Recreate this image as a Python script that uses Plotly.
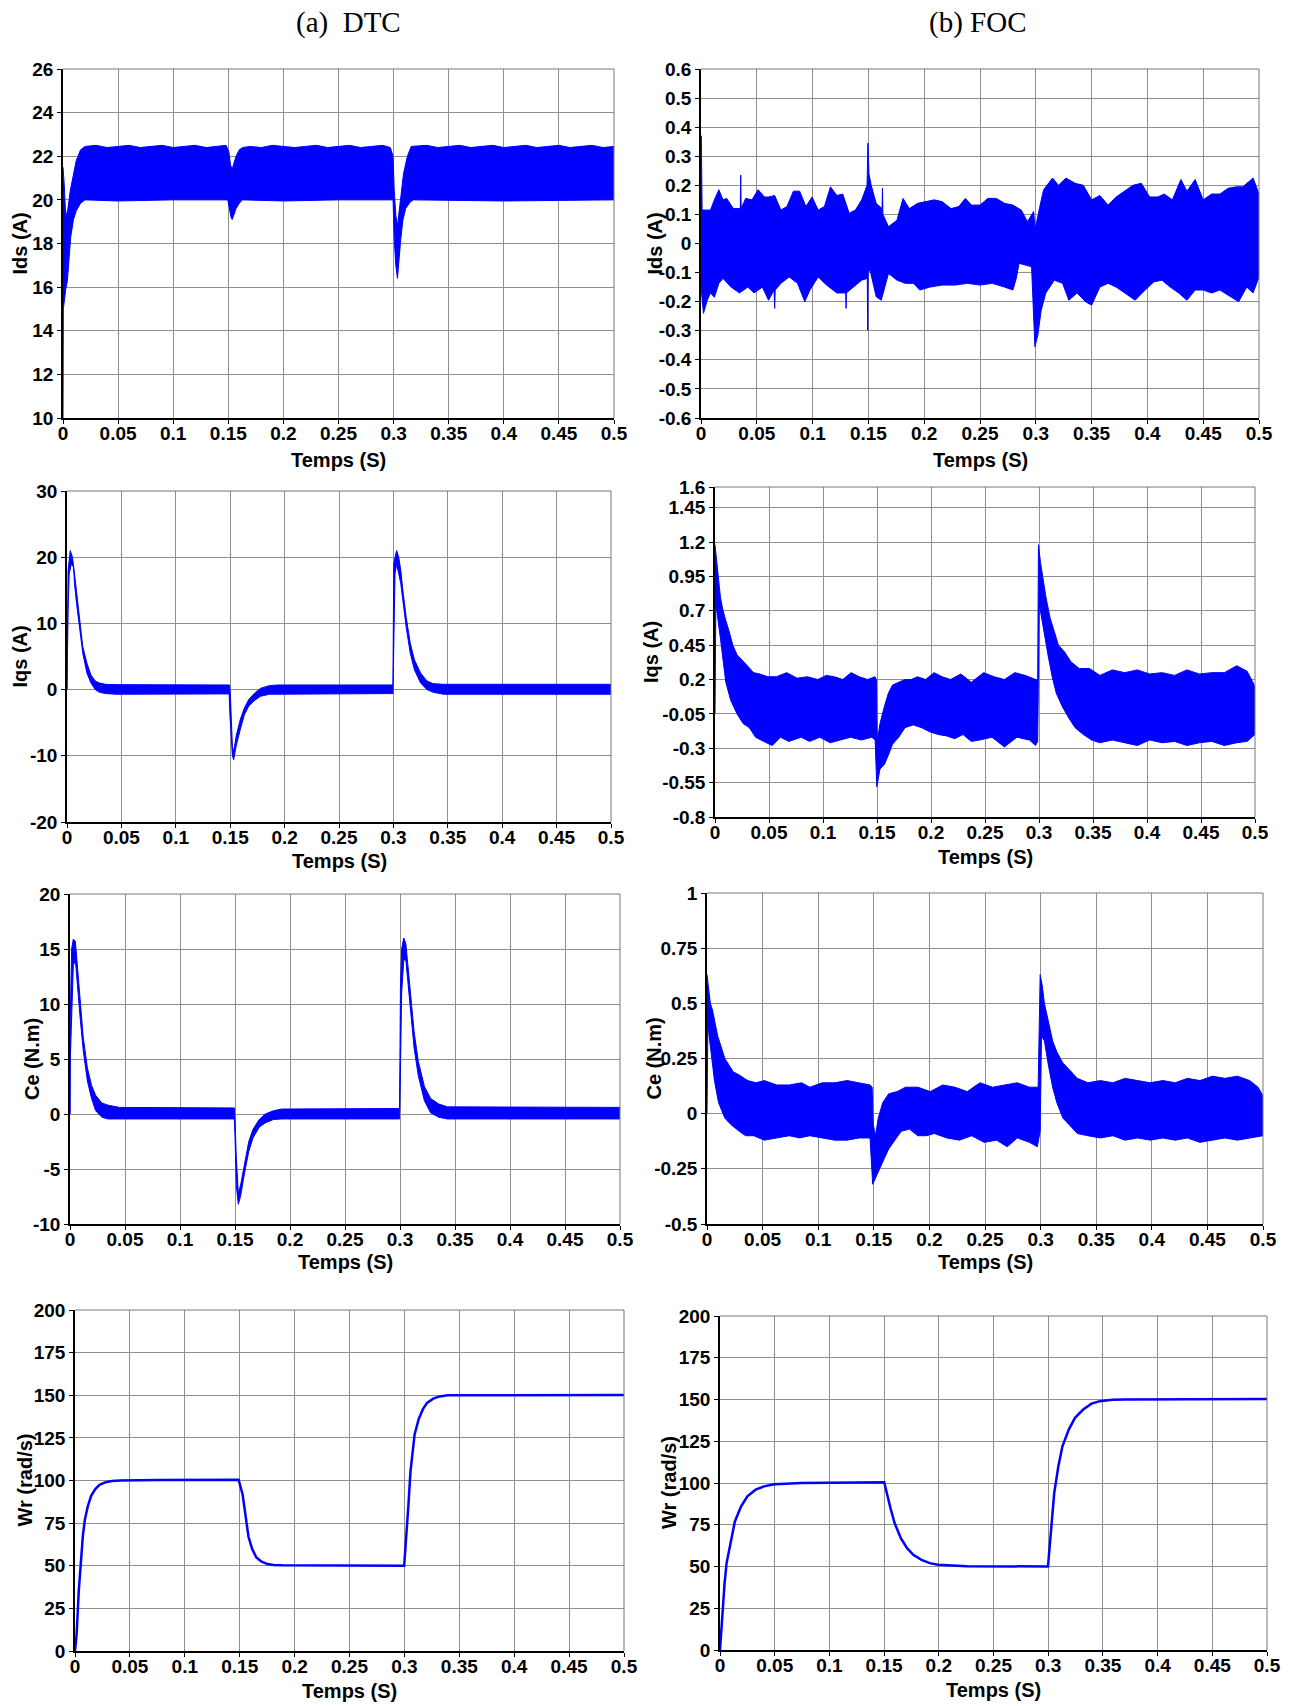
import plotly.graph_objects as go

W, H = 1294, 1706
BLUE = "#0000FF"
TICK_FONT = dict(family="Liberation Sans, Arial, sans-serif", size=19, color="black", weight="bold")
TITLE_FONT = dict(family="Liberation Sans, Arial, sans-serif", size=20, color="black", weight="bold")

# ---- time axis ----
T_TICKS = [0, 0.05, 0.1, 0.15, 0.2, 0.25, 0.3, 0.35, 0.4, 0.45, 0.5]
T_LABELS = ["0", "0.05", "0.1", "0.15", "0.2", "0.25", "0.3", "0.35", "0.4", "0.45", "0.5"]

# ---- value-axis ticks ----
IDS_DTC_TICKS = [10, 12, 14, 16, 18, 20, 22, 24, 26]
IDS_FOC_TICKS = [-0.6, -0.5, -0.4, -0.3, -0.2, -0.1, 0, 0.1, 0.2, 0.3, 0.4, 0.5, 0.6]
IDS_FOC_LABELS = ["-0.6", "-0.5", "-0.4", "-0.3", "-0.2", "-0.1", "0", "0.1", "0.2", "0.3", "0.4", "0.5", "0.6"]
IQS_DTC_TICKS = [-20, -10, 0, 10, 20, 30]
IQS_FOC_TICKS = [-0.8, -0.55, -0.3, -0.05, 0.2, 0.45, 0.7, 0.95, 1.2, 1.45, 1.6]
IQS_FOC_LABELS = ["-0.8", "-0.55", "-0.3", "-0.05", "0.2", "0.45", "0.7", "0.95", "1.2", "1.45", "1.6"]
CE_DTC_TICKS = [-10, -5, 0, 5, 10, 15, 20]
CE_FOC_TICKS = [-0.5, -0.25, 0, 0.25, 0.5, 0.75, 1]
CE_FOC_LABELS = ["-0.5", "-0.25", "0", "0.25", "0.5", "0.75", "1"]
WR_TICKS = [0, 25, 50, 75, 100, 125, 150, 175, 200]

# ---- DTC: Ids envelope (t [s], A) ----
IDS_DTC_UPPER = [(0, 21.5), (0.001, 20.8), (0.0025, 19.2), (0.0045, 19.6), (0.0065, 20.4), (0.009, 21.0),
                 (0.012, 21.8), (0.016, 22.3), (0.02, 22.45), (0.03, 22.5), (0.04, 22.4), (0.05, 22.45),
                 (0.06, 22.5), (0.07, 22.4), (0.08, 22.45), (0.09, 22.5), (0.1, 22.4), (0.11, 22.45),
                 (0.12, 22.5), (0.13, 22.4), (0.14, 22.45), (0.148, 22.5), (0.1505, 22.2), (0.152, 21.6),
                 (0.1535, 21.4), (0.155, 21.7), (0.157, 22.0), (0.16, 22.3), (0.163, 22.4), (0.17, 22.45),
                 (0.18, 22.4), (0.19, 22.5), (0.2, 22.45), (0.21, 22.4), (0.22, 22.45), (0.23, 22.5),
                 (0.24, 22.4), (0.25, 22.45), (0.26, 22.5), (0.27, 22.4), (0.28, 22.45), (0.29, 22.5),
                 (0.297, 22.4), (0.2995, 22.0), (0.3005, 20.5), (0.302, 19.3), (0.3035, 18.8), (0.305, 19.4),
                 (0.307, 20.4), (0.309, 21.2), (0.3125, 22.0), (0.316, 22.45), (0.33, 22.5), (0.34, 22.4),
                 (0.35, 22.45), (0.36, 22.5), (0.37, 22.4), (0.38, 22.45), (0.39, 22.5), (0.4, 22.4),
                 (0.41, 22.45), (0.42, 22.5), (0.43, 22.4), (0.44, 22.45), (0.45, 22.5), (0.46, 22.4),
                 (0.47, 22.45), (0.48, 22.5), (0.49, 22.4), (0.5, 22.45)]
IDS_DTC_LOWER = [(0, 10), (0.0003, 15.0), (0.0025, 15.9), (0.004, 16.3), (0.0055, 17.2), (0.007, 18.3),
                 (0.0095, 19.1), (0.012, 19.5), (0.016, 19.85), (0.02, 20.0), (0.05, 19.95), (0.1, 20.0),
                 (0.1495, 20.0), (0.151, 19.6), (0.1525, 19.2), (0.1535, 19.1), (0.155, 19.3), (0.157, 19.6),
                 (0.16, 19.85), (0.163, 20.0), (0.2, 19.95), (0.25, 20.0), (0.2995, 20.0), (0.3005, 18.3),
                 (0.302, 17.0), (0.3035, 16.4), (0.305, 17.1), (0.3065, 18.2), (0.3085, 19.1), (0.311, 19.6),
                 (0.315, 19.9), (0.318, 20.0), (0.4, 19.95), (0.5, 20.0)]

# ---- FOC: Ids envelope ----
IDS_FOC_UPPER = [(0, 0.37), (0.0003, 0.37), (0.001, 0.115), (0.0085, 0.115), (0.012, 0.15), (0.016, 0.185),
                 (0.0197, 0.15), (0.023, 0.155), (0.029, 0.12), (0.0352, 0.12), (0.0356, 0.235), (0.036, 0.12),
                 (0.04, 0.155), (0.0457, 0.15), (0.0512, 0.185), (0.0568, 0.16), (0.0605, 0.16), (0.066, 0.165),
                 (0.0716, 0.115), (0.077, 0.127), (0.0828, 0.18), (0.0884, 0.18), (0.094, 0.127), (0.0995, 0.16),
                 (0.105, 0.115), (0.1106, 0.127), (0.116, 0.195), (0.1217, 0.165), (0.127, 0.17), (0.1328, 0.104),
                 (0.1384, 0.115), (0.144, 0.15), (0.1488, 0.2), (0.1496, 0.345), (0.1505, 0.24), (0.1525, 0.2),
                 (0.157, 0.138), (0.1622, 0.12), (0.1626, 0.19), (0.163, 0.1), (0.168, 0.058), (0.1756, 0.08),
                 (0.181, 0.155), (0.1867, 0.12), (0.194, 0.138), (0.2016, 0.144), (0.209, 0.15), (0.216, 0.144),
                 (0.224, 0.12), (0.231, 0.127), (0.2368, 0.155), (0.2424, 0.132), (0.25, 0.132), (0.257, 0.155),
                 (0.2647, 0.155), (0.272, 0.138), (0.2795, 0.132), (0.287, 0.115), (0.2925, 0.075), (0.298, 0.11),
                 (0.2995, 0.05), (0.3036, 0.127), (0.307, 0.185), (0.315, 0.225), (0.3203, 0.2), (0.327, 0.225),
                 (0.3352, 0.207), (0.3426, 0.2), (0.35, 0.15), (0.3574, 0.165), (0.3648, 0.132), (0.372, 0.16),
                 (0.3797, 0.18), (0.387, 0.2), (0.3946, 0.207), (0.402, 0.16), (0.4094, 0.16), (0.415, 0.17),
                 (0.4224, 0.15), (0.43, 0.22), (0.4354, 0.18), (0.4428, 0.22), (0.45, 0.15), (0.4576, 0.17),
                 (0.465, 0.17), (0.4724, 0.19), (0.48, 0.195), (0.4855, 0.195), (0.4947, 0.225), (0.5, 0.17)]
IDS_FOC_LOWER = [(0, -0.15), (0.0022, -0.24), (0.0056, -0.195), (0.0085, -0.17), (0.012, -0.185), (0.016, -0.137),
                 (0.0197, -0.12), (0.027, -0.15), (0.0345, -0.17), (0.042, -0.15), (0.0475, -0.17), (0.055, -0.15),
                 (0.0605, -0.195), (0.0655, -0.16), (0.066, -0.223), (0.0665, -0.16), (0.0716, -0.137), (0.079, -0.115),
                 (0.0865, -0.137), (0.093, -0.2), (0.0976, -0.16), (0.105, -0.115), (0.1125, -0.143), (0.1217, -0.17),
                 (0.1297, -0.17), (0.13, -0.223), (0.1303, -0.17), (0.1366, -0.15), (0.144, -0.126), (0.149, -0.12),
                 (0.1494, -0.298), (0.1498, -0.1), (0.1514, -0.09), (0.157, -0.183), (0.1615, -0.195), (0.168, -0.103),
                 (0.1756, -0.126), (0.183, -0.137), (0.1904, -0.137), (0.196, -0.16), (0.205, -0.15), (0.216, -0.143),
                 (0.2275, -0.143), (0.2387, -0.137), (0.25, -0.143), (0.261, -0.137), (0.272, -0.15), (0.2795, -0.16),
                 (0.2825, -0.12), (0.285, -0.068), (0.2906, -0.075), (0.2962, -0.08), (0.2992, -0.355), (0.3018, -0.315),
                 (0.3048, -0.23), (0.309, -0.17), (0.3166, -0.126), (0.324, -0.137), (0.3296, -0.195), (0.337, -0.17),
                 (0.3445, -0.2), (0.35, -0.212), (0.3574, -0.15), (0.3648, -0.137), (0.372, -0.15), (0.3797, -0.17),
                 (0.389, -0.195), (0.398, -0.16), (0.4057, -0.132), (0.413, -0.126), (0.4205, -0.15), (0.428, -0.17),
                 (0.4354, -0.195), (0.4428, -0.16), (0.45, -0.16), (0.4576, -0.17), (0.465, -0.16), (0.4724, -0.178),
                 (0.4818, -0.2), (0.489, -0.15), (0.4947, -0.17), (0.5, -0.115)]

# ---- DTC: Iqs envelope ----
IQS_DTC_UPPER = [(0, 0), (0.0004, 12), (0.001, 18), (0.003, 21), (0.005, 20), (0.0069, 17.5), (0.0088, 14.5),
                 (0.0107, 11.5), (0.0145, 6.5), (0.0183, 4), (0.022, 2.2), (0.026, 1.3), (0.0297, 1.0),
                 (0.0354, 0.8), (0.045, 0.75), (0.1495, 0.7), (0.1502, -1), (0.152, -8.5), (0.1532, -9.5),
                 (0.1555, -7), (0.1593, -4.5), (0.163, -2.8), (0.167, -1.5), (0.1726, -0.5), (0.178, 0.2),
                 (0.186, 0.6), (0.1935, 0.7), (0.2996, 0.7), (0.3003, 19), (0.3015, 20), (0.303, 21),
                 (0.3049, 20), (0.3068, 18), (0.3087, 15), (0.3117, 11), (0.3155, 7), (0.3193, 4.5),
                 (0.325, 2.5), (0.3308, 1.3), (0.3365, 0.9), (0.346, 0.8), (0.5, 0.8)]
IQS_DTC_LOWER = [(0, 0), (0.001, 12), (0.002, 17.5), (0.004, 19), (0.006, 18.5), (0.0069, 16), (0.0088, 13),
                 (0.0107, 10), (0.0145, 5.5), (0.0183, 2.5), (0.022, 1.0), (0.026, 0.0), (0.0297, -0.4),
                 (0.0354, -0.6), (0.045, -0.7), (0.149, -0.65), (0.1498, -4), (0.152, -10), (0.1532, -10.6),
                 (0.1555, -8.5), (0.1593, -6), (0.163, -3.8), (0.167, -2.5), (0.1726, -1.6), (0.178, -1.0),
                 (0.186, -0.7), (0.1935, -0.7), (0.2996, -0.6), (0.3003, 5), (0.3015, 17.5), (0.303, 19),
                 (0.3049, 17.5), (0.3068, 16), (0.3087, 13.5), (0.3117, 9.5), (0.3155, 5.5), (0.3193, 3),
                 (0.325, 1), (0.3308, 0), (0.3365, -0.4), (0.346, -0.7), (0.5, -0.7)]

# ---- FOC: Iqs envelope ----
IQS_FOC_UPPER = [(0, 1.18), (0.0015, 1.05), (0.003, 0.95), (0.005, 0.8), (0.0069, 0.72), (0.0088, 0.66),
                 (0.0127, 0.56), (0.0165, 0.45), (0.0204, 0.38), (0.0242, 0.35), (0.03, 0.3), (0.0357, 0.25),
                 (0.0415, 0.24), (0.049, 0.22), (0.0568, 0.22), (0.0664, 0.25), (0.076, 0.21), (0.0856, 0.22),
                 (0.0952, 0.2), (0.103, 0.23), (0.1106, 0.22), (0.1183, 0.2), (0.126, 0.25), (0.1336, 0.22),
                 (0.1413, 0.2), (0.1482, 0.22), (0.1494, 0.2), (0.1502, -0.25), (0.1528, -0.12), (0.1567, 0.0),
                 (0.1605, 0.1), (0.1644, 0.16), (0.1701, 0.18), (0.1759, 0.2), (0.1816, 0.2), (0.1874, 0.22),
                 (0.195, 0.2), (0.2028, 0.25), (0.2104, 0.22), (0.2181, 0.2), (0.2277, 0.24), (0.2373, 0.18),
                 (0.2488, 0.25), (0.2584, 0.22), (0.268, 0.2), (0.2776, 0.25), (0.2872, 0.23), (0.2968, 0.2),
                 (0.2988, 0.2), (0.2995, 1.18), (0.3014, 1.05), (0.3033, 0.95), (0.3064, 0.8), (0.3102, 0.65),
                 (0.314, 0.55), (0.318, 0.45), (0.3237, 0.4), (0.3295, 0.33), (0.3372, 0.28), (0.3468, 0.28),
                 (0.3564, 0.23), (0.3679, 0.27), (0.3794, 0.25), (0.391, 0.27), (0.4025, 0.24), (0.414, 0.25),
                 (0.4255, 0.23), (0.437, 0.27), (0.4485, 0.24), (0.46, 0.25), (0.4716, 0.25), (0.4831, 0.3),
                 (0.4927, 0.26), (0.5, 0.15)]
IQS_FOC_LOWER = [(0, -0.05), (0.0008, 0.75), (0.003, 0.62), (0.005, 0.5), (0.007, 0.35), (0.01, 0.18),
                 (0.0145, 0.05), (0.0204, -0.05), (0.026, -0.12), (0.0318, -0.15), (0.0376, -0.22), (0.045, -0.25),
                 (0.053, -0.28), (0.0606, -0.22), (0.0683, -0.25), (0.0798, -0.22), (0.0875, -0.25), (0.0971, -0.22),
                 (0.1068, -0.26), (0.116, -0.24), (0.1256, -0.22), (0.1356, -0.24), (0.1452, -0.22), (0.1483, -0.24),
                 (0.1498, -0.58), (0.1528, -0.45), (0.1567, -0.42), (0.1605, -0.35), (0.1644, -0.27), (0.1701, -0.22),
                 (0.1759, -0.15), (0.1836, -0.13), (0.1912, -0.15), (0.1988, -0.18), (0.2066, -0.2), (0.2143, -0.21),
                 (0.222, -0.23), (0.2296, -0.2), (0.2373, -0.25), (0.245, -0.24), (0.2565, -0.22), (0.268, -0.29),
                 (0.2795, -0.22), (0.2911, -0.24), (0.2968, -0.28), (0.2988, -0.25), (0.3002, 0.75), (0.3026, 0.65),
                 (0.3045, 0.55), (0.3083, 0.38), (0.3122, 0.22), (0.316, 0.1), (0.3218, 0.0), (0.3276, -0.08),
                 (0.3334, -0.15), (0.341, -0.2), (0.3487, -0.24), (0.3564, -0.26), (0.3679, -0.24), (0.3794, -0.26),
                 (0.391, -0.28), (0.4025, -0.24), (0.414, -0.26), (0.4255, -0.25), (0.437, -0.28), (0.4485, -0.26),
                 (0.46, -0.25), (0.4716, -0.28), (0.4831, -0.26), (0.4927, -0.25), (0.5, -0.2)]

# ---- DTC: electromagnetic torque envelope (N.m) ----
CE_DTC_UPPER = [(0, 0), (0.0003, 9), (0.0015, 15), (0.003, 15.9), (0.0049, 15.7), (0.0068, 13.5), (0.009, 10.5),
                (0.012, 7), (0.0158, 4.2), (0.0196, 2.6), (0.0233, 1.7), (0.029, 1.0), (0.0346, 0.8), (0.045, 0.6),
                (0.1494, 0.55), (0.15, -0.5), (0.1512, -4), (0.153, -7.2), (0.155, -6.5), (0.1588, -4.3),
                (0.1625, -2.5), (0.1663, -1.4), (0.172, -0.5), (0.1776, 0), (0.185, 0.3), (0.1926, 0.45),
                (0.2996, 0.5), (0.3004, 11.5), (0.3015, 15), (0.3034, 16), (0.3053, 15.5), (0.3072, 13.5),
                (0.3098, 10.5), (0.3128, 7.5), (0.3166, 4.8), (0.3222, 2.5), (0.3279, 1.4), (0.3354, 0.9),
                (0.343, 0.65), (0.5, 0.6)]
CE_DTC_LOWER = [(0, 0), (0.0003, 5), (0.0015, 9), (0.003, 13.5), (0.0049, 14), (0.0068, 12), (0.009, 9),
                (0.012, 5.8), (0.0158, 3), (0.0196, 1.4), (0.0233, 0.3), (0.029, -0.3), (0.0346, -0.45),
                (0.1494, -0.45), (0.15, -2), (0.1512, -6.5), (0.153, -8.2), (0.155, -7.5), (0.1588, -5.3),
                (0.1625, -3.4), (0.1663, -2.2), (0.172, -1.2), (0.1776, -0.8), (0.185, -0.5), (0.1926, -0.45),
                (0.2996, -0.45), (0.3004, 4), (0.3015, 11), (0.3034, 14), (0.3053, 14), (0.3072, 12),
                (0.3098, 9), (0.3128, 6), (0.3166, 3.5), (0.3222, 1.2), (0.3279, 0.1), (0.3354, -0.3),
                (0.343, -0.45), (0.5, -0.45)]

# ---- FOC: electromagnetic torque envelope ----
CE_FOC_UPPER = [(0, 0.63), (0.0015, 0.55), (0.003, 0.5), (0.0049, 0.47), (0.0067, 0.42), (0.0097, 0.35),
                (0.0123, 0.31), (0.016, 0.25), (0.0198, 0.22), (0.0235, 0.19), (0.029, 0.175), (0.0366, 0.15),
                (0.044, 0.14), (0.0515, 0.15), (0.0627, 0.13), (0.074, 0.13), (0.085, 0.14), (0.0925, 0.12),
                (0.1037, 0.14), (0.115, 0.14), (0.126, 0.15), (0.137, 0.14), (0.1466, 0.13), (0.1485, 0.12),
                (0.1495, -0.05), (0.1515, -0.1), (0.154, -0.02), (0.158, 0.05), (0.1634, 0.09), (0.171, 0.1),
                (0.1784, 0.12), (0.1896, 0.12), (0.2007, 0.1), (0.212, 0.13), (0.223, 0.12), (0.234, 0.1),
                (0.2455, 0.14), (0.2567, 0.12), (0.268, 0.13), (0.279, 0.14), (0.29, 0.12), (0.2978, 0.12),
                (0.2996, 0.63), (0.3015, 0.58), (0.3034, 0.5), (0.307, 0.42), (0.3108, 0.33), (0.3146, 0.28),
                (0.32, 0.23), (0.3257, 0.2), (0.333, 0.16), (0.3425, 0.14), (0.3537, 0.15), (0.365, 0.14),
                (0.376, 0.16), (0.3873, 0.15), (0.3985, 0.14), (0.41, 0.15), (0.421, 0.14), (0.432, 0.16),
                (0.4433, 0.15), (0.4545, 0.17), (0.4657, 0.16), (0.477, 0.17), (0.488, 0.15), (0.4955, 0.12),
                (0.5, 0.08)]
CE_FOC_LOWER = [(0, 0.0), (0.0008, 0.4), (0.003, 0.3), (0.0067, 0.15), (0.0104, 0.05), (0.016, -0.02),
                (0.0216, -0.05), (0.029, -0.08), (0.0347, -0.1), (0.042, -0.1), (0.0515, -0.12), (0.0627, -0.11),
                (0.074, -0.1), (0.0833, -0.11), (0.0925, -0.1), (0.1037, -0.11), (0.115, -0.12), (0.126, -0.12),
                (0.137, -0.11), (0.1466, -0.11), (0.149, -0.32), (0.1522, -0.28), (0.156, -0.24), (0.1597, -0.2),
                (0.1634, -0.16), (0.169, -0.12), (0.1746, -0.08), (0.182, -0.07), (0.1896, -0.1), (0.197, -0.1),
                (0.2045, -0.09), (0.2157, -0.11), (0.227, -0.12), (0.238, -0.1), (0.2493, -0.13), (0.2604, -0.12),
                (0.27, -0.15), (0.279, -0.11), (0.29, -0.13), (0.297, -0.15), (0.2996, -0.08), (0.3008, 0.35),
                (0.3034, 0.33), (0.307, 0.22), (0.3108, 0.12), (0.3146, 0.05), (0.32, -0.02), (0.3257, -0.05),
                (0.333, -0.09), (0.3425, -0.1), (0.3537, -0.11), (0.365, -0.1), (0.376, -0.12), (0.3873, -0.11),
                (0.3985, -0.12), (0.41, -0.11), (0.421, -0.12), (0.432, -0.11), (0.4433, -0.13), (0.4545, -0.12),
                (0.4657, -0.11), (0.477, -0.12), (0.488, -0.11), (0.5, -0.1)]

# ---- rotor speed (rad/s) ----
WR_DTC = [(0, 0), (0.0015, 10), (0.0034, 35), (0.0053, 55), (0.0072, 68), (0.009, 77), (0.0117, 85),
          (0.0147, 91), (0.0185, 95), (0.0223, 97.5), (0.028, 99), (0.0336, 99.7), (0.041, 100),
          (0.075, 100.3), (0.149, 100.5), (0.1526, 92), (0.1545, 83), (0.1563, 74), (0.158, 67),
          (0.1613, 60), (0.165, 55), (0.1696, 52.5), (0.1752, 51), (0.181, 50.5), (0.1885, 50.3),
          (0.2998, 50), (0.3017, 65), (0.3036, 85), (0.3055, 105), (0.3074, 118), (0.3093, 127),
          (0.313, 136), (0.317, 142), (0.3206, 145.5), (0.3263, 148), (0.332, 149.3), (0.3395, 150),
          (0.5, 150.2)]
WR_FOC = [(0, 0), (0.0015, 15), (0.0042, 40), (0.006, 52), (0.0099, 66), (0.0136, 77), (0.0193, 86),
          (0.025, 92), (0.0326, 96), (0.0402, 98), (0.0497, 99.2), (0.063, 99.8), (0.0743, 100),
          (0.1501, 100.5), (0.152, 95), (0.1558, 85), (0.1596, 76), (0.1653, 67), (0.171, 61),
          (0.1767, 57), (0.1842, 54), (0.1918, 52), (0.1994, 51), (0.2108, 50.5), (0.2259, 50.2),
          (0.2998, 50), (0.3017, 65), (0.3036, 80), (0.3055, 94), (0.3093, 110), (0.313, 122),
          (0.3188, 132), (0.3245, 139), (0.332, 144), (0.3396, 147.5), (0.3472, 149), (0.3585, 149.8),
          (0.37, 150), (0.5, 150.3)]


def band(upper, lower, xa, ya):
    """Filled band between an upper and a lower envelope."""
    xs = [t for t, _ in upper] + [t for t, _ in reversed(lower)]
    ys = [v for _, v in upper] + [v for _, v in reversed(lower)]
    return go.Scatter(x=xs, y=ys, mode="lines", fill="toself", fillcolor=BLUE,
                      line=dict(color=BLUE, width=1), xaxis=xa, yaxis=ya,
                      hoverinfo="skip", showlegend=False)


def curve(points, xa, ya):
    return go.Scatter(x=[t for t, _ in points], y=[v for _, v in points], mode="lines",
                      line=dict(color=BLUE, width=2.5), xaxis=xa, yaxis=ya,
                      hoverinfo="skip", showlegend=False)


# panel boxes in pixels: left, top, right, bottom
panels = [
    dict(box=(63, 69, 614, 418), yr=[10, 26], yt=IDS_DTC_TICKS, yl=None, title="Ids (A)", tx=20,
         xt_y=460, traces=("band", IDS_DTC_UPPER, IDS_DTC_LOWER)),
    dict(box=(701, 69, 1259, 418), yr=[-0.6, 0.6], yt=IDS_FOC_TICKS, yl=IDS_FOC_LABELS, title="Ids (A)", tx=655,
         xt_y=460, traces=("band", IDS_FOC_UPPER, IDS_FOC_LOWER)),
    dict(box=(67, 491, 611, 822), yr=[-20, 30], yt=IQS_DTC_TICKS, yl=None, title="Iqs (A)", tx=19,
         xt_y=861, traces=("band", IQS_DTC_UPPER, IQS_DTC_LOWER)),
    dict(box=(715, 487, 1255, 817), yr=[-0.8, 1.6], yt=IQS_FOC_TICKS, yl=IQS_FOC_LABELS, title="Iqs (A)", tx=651,
         xt_y=857, traces=("band", IQS_FOC_UPPER, IQS_FOC_LOWER)),
    dict(box=(70, 894, 620, 1224), yr=[-10, 20], yt=CE_DTC_TICKS, yl=None, title="Ce (N.m)", tx=32,
         xt_y=1262, traces=("band", CE_DTC_UPPER, CE_DTC_LOWER)),
    dict(box=(707, 893, 1263, 1224), yr=[-0.5, 1], yt=CE_FOC_TICKS, yl=CE_FOC_LABELS, title="Ce (N.m)", tx=653,
         xt_y=1262, traces=("band", CE_FOC_UPPER, CE_FOC_LOWER)),
    dict(box=(75, 1310, 624, 1651), yr=[0, 200], yt=WR_TICKS, yl=None, title="Wr (rad/s)", tx=24,
         xt_y=1691, traces=("line", WR_DTC)),
    dict(box=(720, 1316, 1267, 1650), yr=[0, 200], yt=WR_TICKS, yl=None, title="Wr (rad/s)", tx=669,
         xt_y=1690, traces=("line", WR_FOC)),
]

fig = go.Figure()
layout = dict(width=W, height=H, margin=dict(l=0, r=0, t=0, b=0), template="none",
              paper_bgcolor="white", plot_bgcolor="white", showlegend=False)
annotations = []
shapes = []

for i, p in enumerate(panels, start=1):
    l, t, r, b = p["box"]
    sfx = "" if i == 1 else str(i)
    xa, ya = "x" + sfx, "y" + sfx
    xkey, ykey = "xaxis" + sfx, "yaxis" + sfx
    layout[xkey] = dict(domain=[l / W, r / W], anchor=ya, range=[0, 0.5], tickvals=T_TICKS, ticktext=T_LABELS,
                        showgrid=True, gridcolor="#8f8f8f", gridwidth=1, zeroline=False,
                        showline=True, linecolor="black", linewidth=1.5, ticks="outside", ticklen=4,
                        tickcolor="black", tickfont=TICK_FONT, ticklabelstandoff=-7,
                        automargin=False, fixedrange=True)
    ylab = p["yl"] if p["yl"] is not None else [str(v) for v in p["yt"]]
    layout[ykey] = dict(domain=[1 - b / H, 1 - t / H], anchor=xa, range=p["yr"], tickvals=p["yt"], ticktext=ylab,
                        showgrid=True, gridcolor="#8f8f8f", gridwidth=1, zeroline=False,
                        showline=True, linecolor="black", linewidth=1.5, ticks="outside", ticklen=4,
                        tickcolor="black", tickfont=TICK_FONT, automargin=False, fixedrange=True)
    kind = p["traces"][0]
    if kind == "band":
        fig.add_trace(band(p["traces"][1], p["traces"][2], xa, ya))
    else:
        fig.add_trace(curve(p["traces"][1], xa, ya))

    # top and right frame edges
    shapes.append(dict(type="line", xref=f"{xa} domain", yref=f"{ya} domain", x0=0, x1=1, y0=1, y1=1,
                       line=dict(color="#777777", width=1)))
    shapes.append(dict(type="line", xref=f"{xa} domain", yref=f"{ya} domain", x0=1, x1=1, y0=0, y1=1,
                       line=dict(color="#777777", width=1)))

    # axis titles
    annotations.append(dict(text="Temps (S)", xref="paper", yref="paper", x=(l + r) / 2 / W, y=1 - p["xt_y"] / H,
                            showarrow=False, xanchor="center", yanchor="middle", font=TITLE_FONT))
    annotations.append(dict(text=p["title"], xref="paper", yref="paper", x=p["tx"] / W, y=1 - (t + b) / 2 / H,
                            showarrow=False, xanchor="center", yanchor="middle", textangle=-90, font=TITLE_FONT))

# column headings
HEAD_FONT = dict(family="Liberation Serif, Times New Roman, serif", size=29, color="black")
annotations.append(dict(text="(a)&nbsp; DTC", xref="paper", yref="paper", x=348 / W, y=1 - 22 / H,
                        showarrow=False, xanchor="center", yanchor="middle", font=HEAD_FONT))
annotations.append(dict(text="(b) FOC", xref="paper", yref="paper", x=977 / W, y=1 - 22 / H,
                        showarrow=False, xanchor="center", yanchor="middle", font=HEAD_FONT))

layout["annotations"] = annotations
layout["shapes"] = shapes
fig.update_layout(**layout)
fig.write_html("out.html")
